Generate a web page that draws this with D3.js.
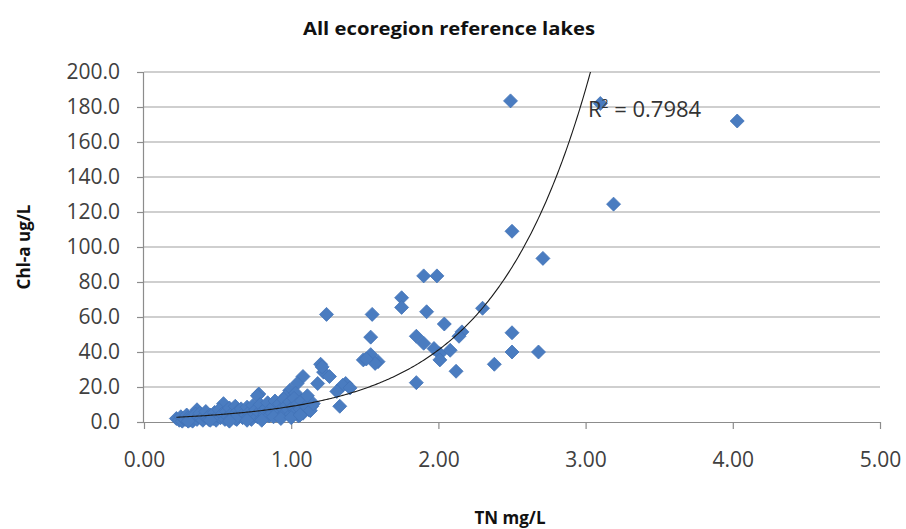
<!DOCTYPE html>
<html><head><meta charset="utf-8">
<script src="https://cdn.jsdelivr.net/npm/d3@7"></script>
<style>
html,body{margin:0;padding:0;background:#fff;}
svg{display:block;}
</style></head>
<body>
<svg id="c" width="906" height="529"></svg>
<script>
const title = "All ecoregion reference lakes";
const xTitle = "TN mg/L";
const yTitle = "Chl-a ug/L";
const xTicks = [0, 1, 2, 3, 4, 5];
const yTicks = [0, 20, 40, 60, 80, 100, 120, 140, 160, 180, 200];
const r2Label = "0.7984";
// exponential trendline y = a * exp(b * x)
const trendA = 1.93;
const trendB = 1.53;

const tn = [
2.49,3.10,4.03,3.19,2.50,2.71,1.90,1.99,1.75,1.75,1.92,2.30,1.24,1.55,2.04,2.16,2.14,2.50,1.85,1.54,
1.90,1.97,2.01,2.08,2.01,2.50,2.68,2.38,2.12,1.85,1.54,1.49,1.59,1.57,1.51,1.20,1.22,1.26,1.08,1.21,
1.18,1.37,1.35,1.40,1.31,1.33,1.04,0.99,0.78,0.77,0.96,1.03,1.09,1.14,1.12,0.54,0.36,
0.22,0.24,0.25,0.26,0.27,0.28,0.29,0.30,0.31,0.32,0.33,0.34,0.35,0.36,0.37,0.38,0.39,0.40,0.41,0.42,
0.43,0.44,0.45,0.46,0.47,0.48,0.49,0.50,0.51,0.52,0.53,0.55,0.56,0.57,0.58,0.59,0.60,0.61,0.62,0.63,
0.64,0.65,0.66,0.67,0.68,0.69,0.70,0.71,0.72,0.73,0.74,0.75,0.76,0.77,0.78,0.79,0.80,0.81,0.82,0.83,
0.84,0.85,0.86,0.87,0.88,0.89,0.90,0.91,0.92,0.93,0.94,0.95,0.96,0.97,0.98,0.99,1.00,1.01,1.02,1.03,
1.04,1.05,1.06,1.07,1.08,1.10,1.11,1.13,1.15,
0.30,0.45,0.62,0.70,0.88,0.93,1.00,1.06,0.58,0.80
];
const chla = [
183.5,182,172,124.5,109,93.5,83.5,83.5,71,65.5,63,65,61.5,61.5,56,51.5,49,51,49,48.5,
45,42,39,41,35.5,40,40,33,29,22.5,38.5,35.5,34.5,33.5,36,33,28.5,26,26,31.5,
22,22,21,19.5,17.5,9,22,18,16,15,14.5,16.5,12.5,9,7,10.5,7,
2,1,3,0.5,2,1.5,4,2.5,1,3,0.5,2,4.5,1.5,3,5,2,1,3.5,6,
2.5,1.5,4,3,2,5.5,1,3.5,7,2.5,4.5,1.5,6,3,8,2,5,4,9,1.5,
6.5,3.5,7.5,2.5,5,4,8.5,3,6,1.5,9.5,4.5,7,3,5.5,10,2,6.5,4,8,
11,3.5,7,5,9,12,4,6,10.5,3,8,13,5.5,9.5,7,11.5,4.5,8.5,13.5,6,
10,3.5,7.5,12,5,9,15,6.5,10.5,
0.5,1,2,1,3,2,2.5,4,0.5,1
];

const W = 906, H = 529;
const svg = d3.select("#c");
const x = d3.scaleLinear().domain([0, 5]).range([144, 880]);
const y = d3.scaleLinear().domain([0, 200]).range([422, 72]);
const FONT = "'Open Sans', 'Liberation Sans', sans-serif";
const txt = "#404040";

svg.append("rect").attr("width", W).attr("height", H).attr("fill", "#fff");

// gridlines
svg.append("g").selectAll("line").data(yTicks.filter(d => d > 0)).join("line")
  .attr("x1", x(0)).attr("x2", x(5))
  .attr("y1", d => y(d)).attr("y2", d => y(d))
  .attr("stroke", "#a0a0a0").attr("stroke-width", 1.2);

// y axis
const yAxis = svg.append("g").attr("transform", `translate(${x(0)},0)`)
  .call(d3.axisLeft(y).tickValues(yTicks).tickFormat(d3.format(".1f")).tickSize(7).tickPadding(17));
// x axis
const xAxis = svg.append("g").attr("transform", `translate(0,${y(0)})`)
  .call(d3.axisBottom(x).tickValues(xTicks).tickFormat(d3.format(".2f")).tickSize(7).tickPadding(23));
[yAxis, xAxis].forEach(g => {
  g.select(".domain").attr("stroke", "#8c8c8c").attr("stroke-width", 1.2);
  g.selectAll(".tick line").attr("stroke", "#8c8c8c").attr("stroke-width", 1.2);
  g.selectAll(".tick text").attr("fill", txt).style("font-family", FONT).style("font-size", "21px");
});
xAxis.select(".domain").attr("d", `M${x(0)},0.5H${x(5)}`);
yAxis.select(".domain").attr("d", `M-0.5,${y(200)}V${y(0)}`);

// points
const pts = tn.map((v, i) => ({ tn: v, chl: chla[i] }));
const r = 7;
svg.append("g").selectAll("path").data(pts).join("path")
  .attr("d", `M0,${-r}L${r},0L0,${r}L${-r},0Z`)
  .attr("transform", d => `translate(${x(d.tn)},${y(d.chl)})`)
  .attr("fill", "#4a7cc0").attr("stroke", "#4274b8").attr("stroke-width", 0.8);

// trendline
svg.append("clipPath").attr("id", "pa").append("rect")
  .attr("x", x(0)).attr("y", y(200)).attr("width", x(5) - x(0)).attr("height", y(0) - y(200));
const xMin = d3.min(tn), xMax = d3.max(tn);
const tx = d3.range(xMin, xMax, 0.01).concat([xMax]);
svg.append("path").attr("clip-path", "url(#pa)")
  .datum(tx)
  .attr("d", d3.line().x(d => x(d)).y(d => y(trendA * Math.exp(trendB * d))).curve(d3.curveLinear))
  .attr("fill", "none").attr("stroke", "#1a1a1a").attr("stroke-width", 1.1);

// R² label
const rt = svg.append("text").attr("x", 588).attr("y", 117)
  .attr("fill", "#333").style("font-family", FONT).style("font-size", "22px");
rt.append("tspan").text("R");
rt.append("tspan").attr("dy", -9).style("font-size", "12px").text("2");
rt.append("tspan").attr("dy", 9).text(" = " + r2Label);

// titles
svg.append("text").attr("x", 449).attr("y", 35).attr("text-anchor", "middle")
  .attr("fill", "#111").style("font-family", FONT).style("font-size", "17px").style("font-weight", "bold")
  .attr("textLength", 292).attr("lengthAdjust", "spacingAndGlyphs")
  .text(title);
svg.append("text").attr("x", 510).attr("y", 524).attr("text-anchor", "middle")
  .attr("fill", "#111").style("font-family", FONT).style("font-size", "17px").style("font-weight", "bold")
  .text(xTitle);
svg.append("text").attr("transform", "translate(30,247) rotate(-90)").attr("text-anchor", "middle")
  .attr("fill", "#111").style("font-family", FONT).style("font-size", "17px").style("font-weight", "bold")
  .text(yTitle);
</script>
</body></html>
